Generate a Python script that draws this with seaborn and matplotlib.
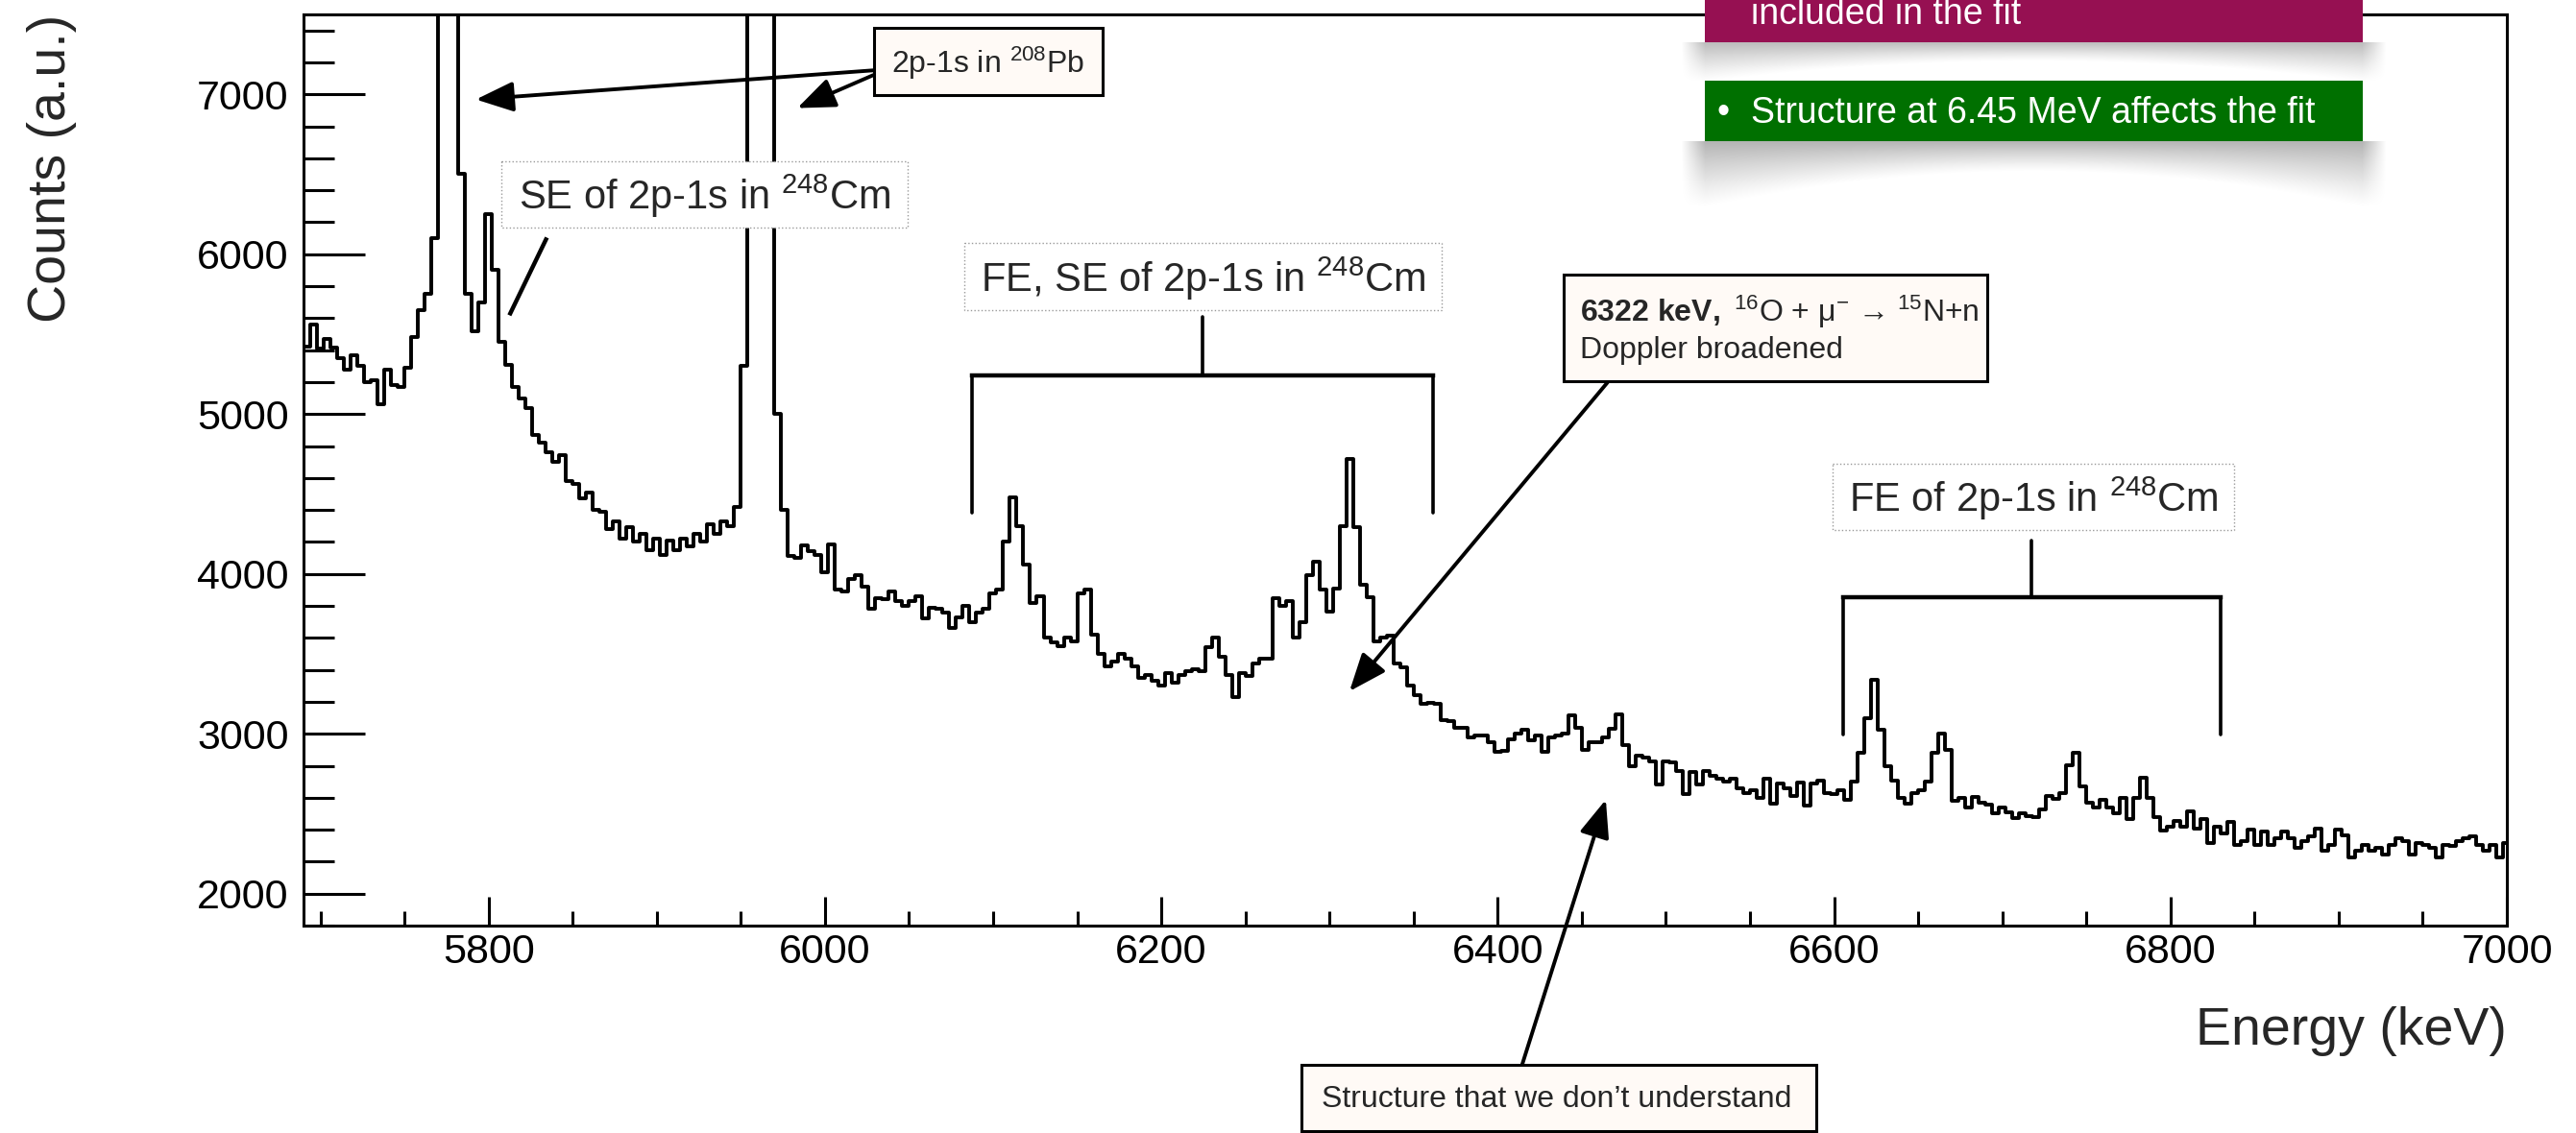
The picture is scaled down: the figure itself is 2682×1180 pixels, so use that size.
import numpy as np
import pandas as pd
import matplotlib
matplotlib.use("Agg")
import matplotlib.pyplot as plt
import seaborn as sns
from matplotlib.patches import Rectangle
from matplotlib.ticker import MultipleLocator

# ---------------- data (4 keV bins, first bin centre 5692 keV) ----------------
bin_width = 4
e_start = 5690
counts_5692_5848 = [5420, 5560, 5410, 5470, 5416, 5350, 5280, 5370, 5300, 5200,
                    5210, 5060, 5280, 5180, 5170, 5290, 5480, 5650, 5750, 6100,
                    9000, 13000, 14000, 6500, 5750, 5520, 5700, 6250, 5900, 5450,
                    5306, 5170, 5100, 5040, 4870, 4820, 4760, 4700, 4746, 4580]
counts_5852_6008 = [4560, 4470, 4510, 4400, 4390, 4280, 4330, 4220, 4290, 4200,
                    4250, 4150, 4220, 4120, 4210, 4150, 4220, 4170, 4250, 4200,
                    4310, 4250, 4330, 4300, 4420, 5300, 9000, 14000, 15000, 9000,
                    5000, 4400, 4110, 4100, 4180, 4140, 4120, 4010, 4186, 3900]
counts_6012_6168 = [3890, 3970, 3990, 3920, 3780, 3850, 3840, 3890, 3830, 3800,
                    3830, 3860, 3720, 3790, 3780, 3760, 3660, 3730, 3800, 3700,
                    3760, 3780, 3880, 3900, 4200, 4480, 4300, 4060, 3820, 3860,
                    3600, 3570, 3550, 3600, 3576, 3880, 3900, 3620, 3500, 3420]
counts_6172_6328 = [3450, 3500, 3470, 3420, 3350, 3366, 3330, 3300, 3380, 3320,
                    3366, 3390, 3406, 3390, 3540, 3600, 3480, 3366, 3230, 3380,
                    3360, 3440, 3470, 3470, 3850, 3800, 3830, 3600, 3700, 3990,
                    4076, 3900, 3766, 3906, 4300, 4720, 4290, 3930, 3856, 3580]
counts_6332_6488 = [3600, 3616, 3440, 3416, 3300, 3240, 3190, 3196, 3190, 3086,
                    3080, 3036, 3036, 2980, 2990, 2990, 2946, 2886, 2896, 2966,
                    3000, 3026, 2960, 2990, 2886, 2980, 2990, 3000, 3116, 3036,
                    2900, 2946, 2950, 2980, 3030, 3120, 2930, 2800, 2866, 2850]
counts_6492_6648 = [2826, 2680, 2826, 2820, 2766, 2620, 2760, 2680, 2766, 2736,
                    2716, 2700, 2720, 2656, 2630, 2646, 2600, 2720, 2560, 2690,
                    2656, 2610, 2696, 2550, 2686, 2706, 2630, 2620, 2646, 2586,
                    2700, 2880, 3100, 3336, 3026, 2800, 2706, 2600, 2560, 2626]
counts_6652_6808 = [2646, 2700, 2880, 3000, 2900, 2580, 2600, 2536, 2606, 2566,
                    2556, 2500, 2540, 2506, 2470, 2500, 2486, 2476, 2526, 2610,
                    2590, 2626, 2806, 2880, 2670, 2566, 2540, 2586, 2536, 2500,
                    2596, 2466, 2600, 2726, 2600, 2476, 2396, 2420, 2456, 2416]
counts_6812_7000 = [2516, 2406, 2466, 2316, 2416, 2376, 2446, 2306, 2326, 2400,
                    2306, 2386, 2306, 2346, 2386, 2346, 2286, 2326, 2356, 2406,
                    2266, 2306, 2400, 2366, 2226, 2266, 2306, 2266, 2286, 2246,
                    2306, 2346, 2326, 2246, 2316, 2306, 2286, 2226, 2306, 2296,
                    2326, 2346, 2356, 2306, 2266, 2306, 2226, 2316]

counts = np.array(counts_5692_5848 + counts_5852_6008 + counts_6012_6168 +
                  counts_6172_6328 + counts_6332_6488 + counts_6492_6648 +
                  counts_6652_6808 + counts_6812_7000, dtype=float)
n_bins = len(counts)
centers = e_start + bin_width * np.arange(n_bins) + bin_width / 2
df = pd.DataFrame({"energy": centers, "counts": counts})

x_ticks_major = 200
x_ticks_minor = 50
y_ticks_major = 1000
y_ticks_minor = 200

# ---------------- annotation texts ----------------
lab_pb = r"2p-1s in $\mathregular{^{208}}$Pb"
lab_se = r"SE of 2p-1s in $\mathregular{^{248}}$Cm"
lab_fese = r"FE, SE of 2p-1s in $\mathregular{^{248}}$Cm"
lab_o16_1 = r"$\mathbf{6322\ keV,}$ $\mathregular{^{16}}$O + μ$\mathregular{^{-}}$ → $\mathregular{^{15}}$N+n"
lab_o16_2 = "Doppler broadened"
lab_fe = r"FE of 2p-1s in $\mathregular{^{248}}$Cm"
lab_struct = "Structure that we don’t understand"
lab_green = "Structure at 6.45 MeV affects the fit"
lab_magenta = "included in the fit"

# ---------------- style ----------------
sns.set_style("ticks")
plt.rcParams["font.family"] = ["Liberation Sans", "DejaVu Sans"]
plt.rcParams["mathtext.fontset"] = "custom"
plt.rcParams["mathtext.rm"] = "Liberation Sans"
plt.rcParams["mathtext.it"] = "Liberation Sans:italic"
plt.rcParams["mathtext.bf"] = "Liberation Sans:bold"
plt.rcParams["mathtext.sf"] = "Liberation Sans"

W, H = 2682, 1180
fig = plt.figure(figsize=(W / 100, H / 100), dpi=100)
ax = fig.add_axes([316 / W, 1 - 964 / H, (2610 - 316) / W, (964 - 15) / H])

sns.histplot(data=df, x="energy", weights="counts", binwidth=bin_width,
             binrange=(e_start, e_start + bin_width * n_bins), element="step",
             fill=False, color="black", linewidth=2.8, ax=ax)

ax.set_xlim(5690, 7000)
ax.set_ylim(1800, 7500)
ax.xaxis.set_major_locator(MultipleLocator(x_ticks_major))
ax.xaxis.set_minor_locator(MultipleLocator(x_ticks_minor))
ax.yaxis.set_major_locator(MultipleLocator(y_ticks_major))
ax.yaxis.set_minor_locator(MultipleLocator(y_ticks_minor))
ax.tick_params(which="both", direction="in", top=False, right=False, width=2.2, colors="black")
ax.tick_params(axis="x", which="major", length=21.6, pad=6, labelsize=31)
ax.tick_params(axis="x", which="minor", length=10.8)
ax.tick_params(axis="y", which="major", length=46, pad=11, labelsize=31)
ax.tick_params(axis="y", which="minor", length=23)
for s in ax.spines.values():
    s.set_visible(True)
    s.set_linewidth(2.2)
    s.set_color("black")

ax.set_ylabel("Counts (a.u.)", loc="top", fontsize=40)
ax.yaxis.set_label_coords(-0.103, 1.0)
ax.set_xlabel("Energy (keV)", loc="right", fontsize=40)
ax.xaxis.set_label_coords(1.0, -0.0885)

# ---------------- in-axes annotations (data coordinates) ----------------
arrow_kw = dict(arrowstyle="-|>,head_length=0.8,head_width=0.32", color="black",
                lw=2.8, shrinkA=0, shrinkB=0, mutation_scale=30)
ax.annotate("", xy=(5792.5, 6968), xytext=(6028.7, 7150), arrowprops=arrow_kw,
            annotation_clip=False, zorder=6)
ax.annotate("", xy=(5983.6, 6914), xytext=(6028.7, 7120), arrowprops=arrow_kw,
            annotation_clip=False, zorder=6)
ax.plot([5834.7, 5812.4], [6104, 5618], color="black", lw=3.2, solid_capstyle="butt", zorder=6)

def bracket(x_left, x_right, y_bar, y_leg, y_stem):
    xc = (x_left + x_right) / 2
    ax.plot([x_left, x_right], [y_bar, y_bar], color="black", lw=3.2, zorder=6,
            solid_capstyle="projecting", clip_on=False)
    ax.plot([x_left, x_left], [y_bar, y_leg], color="black", lw=2.6, zorder=6, clip_on=False)
    ax.plot([x_right, x_right], [y_bar, y_leg], color="black", lw=2.6, zorder=6, clip_on=False)
    ax.plot([xc, xc], [y_bar, y_stem], color="black", lw=2.6, zorder=6, clip_on=False)

bracket(6087.6, 6361.5, 5240, 4382, 5606)
bracket(6605.3, 6829.7, 3854, 2996, 4208)

ax.annotate("", xy=(6311.9, 3266), xytext=(6465.3, 5198), arrowprops=arrow_kw,
            annotation_clip=False, zorder=6)
ax.annotate("", xy=(6464.3, 2588), xytext=(6414.6, 932), arrowprops=arrow_kw,
            annotation_clip=False, zorder=6)

# ---------------- overlay in figure pixel coordinates ----------------
ov = fig.add_axes([0, 0, 1, 1], zorder=10)
ov.set_xlim(0, W)
ov.set_ylim(H, 0)
ov.axis("off")

light = "#fffaf6"

def box(x0, y0, x1, y1, fc, ec, lw, ls="-", z=3):
    ov.add_patch(Rectangle((x0, y0), x1 - x0, y1 - y0, facecolor=fc, edgecolor=ec,
                           linewidth=lw, linestyle=ls, zorder=z))

def curved_shadow(x0, x1, y0, d_center, d_edge, amax=0.27):
    pad = 25
    w = int(x1 - x0) + 2 * pad
    h = int(d_edge) + 10
    xs = np.linspace(x0 - pad, x1 + pad, w)
    u = (xs - x0) / (x1 - x0)
    uc = np.clip(u, 0, 1)
    depth = d_center + (d_edge - d_center) * (2 * uc - 1) ** 2
    ys = np.arange(h) + 0.5
    v = ys[:, None] / depth[None, :]
    a = amax * np.clip(1 - v, 0, 1) ** 1.2
    out = np.maximum(0, np.maximum(-u, u - 1)) * (x1 - x0) / pad
    a *= np.clip(1 - out, 0, 1)[None, :]
    img = np.zeros((h, w, 4))
    img[..., 3] = a
    ov.imshow(img, extent=(x0 - pad, x1 + pad, y0 + h, y0), aspect="auto",
              interpolation="bilinear", zorder=2)

# 2p-1s in 208Pb
box(910, 29, 1148, 99, light, "black", 2.2)
ov.text(1029, 66, lab_pb, fontsize=23, ha="center", va="center", zorder=4)
# SE box (dotted)
box(522, 168, 945, 237, "white", "#9a9a9a", 1.0, ls=":")
ov.text(733.5, 204, lab_se, fontsize=30, ha="center", va="center", zorder=4)
# FE, SE box (dotted)
box(1004.5, 253, 1501, 323, "white", "#9a9a9a", 1.0, ls=":")
ov.text(1252.75, 290, lab_fese, fontsize=30, ha="center", va="center", zorder=4)
# 6322 keV box
box(1628, 286, 2069, 397, light, "black", 2.2)
ov.text(1645, 335, lab_o16_1, fontsize=23, ha="left", va="baseline", zorder=4)
ov.text(1645, 373, lab_o16_2, fontsize=23, ha="left", va="baseline", zorder=4)
# FE box (dotted)
box(1908, 483, 2326, 552, "white", "#9a9a9a", 1.0, ls=":")
ov.text(2117, 519, lab_fe, fontsize=30, ha="center", va="center", zorder=4)
# structure box
box(1355, 1109, 1891, 1178, light, "black", 2.2)
ov.text(1621, 1145, lab_struct, fontsize=23, ha="center", va="center", zorder=4)

# coloured overlay boxes with curved shadows
curved_shadow(1775, 2460, 44, 20, 42, amax=0.27)
curved_shadow(1775, 2460, 147, 32, 70, amax=0.3)
box(1775, -80, 2460, 44, "#961052", "none", 0)
ov.text(1823, 25, lab_magenta, fontsize=27, color="white", ha="left", va="baseline", zorder=4)
box(1775, 84, 2460, 147, "#007000", "none", 0)
ov.text(1788, 128, "•", fontsize=27, color="white", ha="left", va="baseline", zorder=4)
ov.text(1823, 128, lab_green, fontsize=27, color="white", ha="left", va="baseline", zorder=4)

fig.savefig("out.png", dpi=100)
